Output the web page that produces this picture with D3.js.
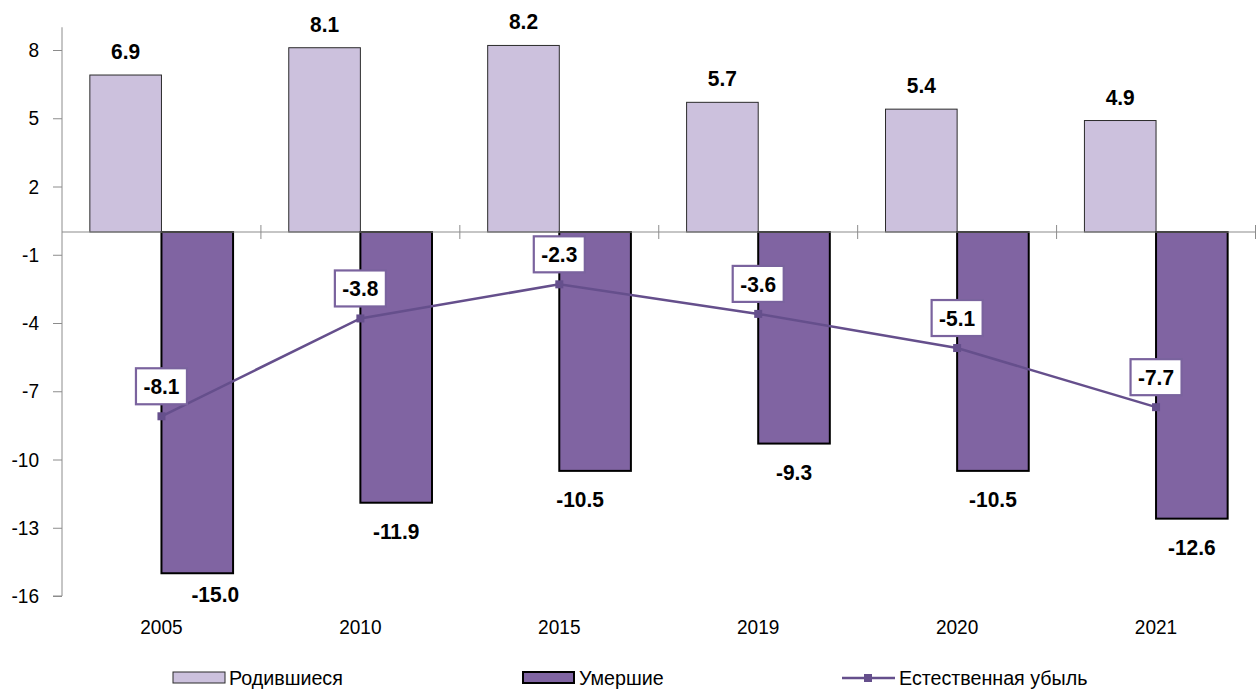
<!DOCTYPE html>
<html><head><meta charset="utf-8">
<script src="https://cdn.jsdelivr.net/npm/d3@7"></script>
<style>
html,body{margin:0;padding:0;background:#fff;}
text{font-family:"Liberation Sans",Arial,sans-serif;}
</style></head>
<body><svg id="chart" width="1258" height="691"></svg>
<script>
const categories = ["2005","2010","2015","2019","2020","2021"];
const births = [6.9, 8.1, 8.2, 5.7, 5.4, 4.9];
const deaths = [-15.0, -11.9, -10.5, -9.3, -10.5, -12.6];
const natural = [-8.1, -3.8, -2.3, -3.6, -5.1, -7.7];
const yTicks = [8, 5, 2, -1, -4, -7, -10, -13, -16];
const seriesNames = ["Родившиеся", "Умершие", "Естественная убыль"];

const svg = d3.select("#chart");
const x = d3.scaleBand().domain(categories).range([62, 1255.5]).padding(0);
const y = d3.scaleLinear().domain([-16, 9]).range([596, 27.25]);
const bw = x.bandwidth() * 0.36;
const cx = c => x(c) + x.bandwidth() / 2;

const cBirth = "#ccc1dd", cDeath = "#8064a2", cLine = "#654f8c", cAxis = "#8c8c8c";
const fTick = 20.5, fLab = 22.5, fLeg = 20.5;

// y axis
const yAxis = svg.append("g").attr("transform", "translate(62,0)")
  .call(d3.axisLeft(y).tickValues(yTicks).tickSize(9).tickPadding(14).tickFormat(d => String(d)));
yAxis.select(".domain").attr("stroke", cAxis).attr("d", `M0,${y(9)}V${y(-16)}H-9`);
yAxis.selectAll(".tick line").attr("stroke", cAxis);
yAxis.selectAll(".tick text").attr("font-size", fTick).attr("fill", "#000").attr("class", "cond");

// bars
svg.append("g").selectAll("rect").data(categories).join("rect")
  .attr("x", (c) => cx(c) - bw).attr("width", bw)
  .attr("y", (c, i) => y(births[i])).attr("height", (c, i) => y(0) - y(births[i]))
  .attr("fill", cBirth).attr("stroke", "#2b2b2b").attr("stroke-width", 1);
svg.append("g").selectAll("rect").data(categories).join("rect")
  .attr("x", (c) => cx(c)).attr("width", bw)
  .attr("y", y(0)).attr("height", (c, i) => y(deaths[i]) - y(0))
  .attr("fill", cDeath).attr("stroke", "#000").attr("stroke-width", 2);

// x axis at zero
const xg = svg.append("g");
xg.append("line").attr("x1", 62).attr("x2", 1255.5).attr("y1", y(0)).attr("y2", y(0))
  .attr("stroke", cAxis).attr("stroke-width", 1.2);
xg.selectAll("line.tk").data(categories).join("line").attr("class", "tk")
  .attr("x1", c => x(c) + x.bandwidth())
  .attr("x2", c => x(c) + x.bandwidth())
  .attr("y1", y(0) - 7).attr("y2", y(0) + 7).attr("stroke", cAxis);
xg.selectAll("text").data(categories).join("text").attr("class", "cond")
  .attr("x", cx).attr("y", 634).attr("text-anchor", "middle")
  .attr("font-size", fTick).text(c => c);

// birth labels
svg.append("g").selectAll("text").data(categories).join("text").attr("class", "cond")
  .attr("x", c => cx(c) - bw / 2).attr("y", (c, i) => y(births[i]) - 16)
  .attr("text-anchor", "middle").attr("font-size", fLab).attr("font-weight", "bold")
  .text((c, i) => births[i].toFixed(1));

// death labels (nudges for overlapping placements)
const nudgeX = {"2005": 18, "2015": -15};
const nudgeY = {"2005": 29};
svg.append("g").selectAll("text").data(categories).join("text").attr("class", "cond")
  .attr("x", c => cx(c) + bw / 2 + (nudgeX[c] || 0))
  .attr("y", (c, i) => y(deaths[i]) + (nudgeY[c] || 36))
  .attr("text-anchor", "middle").attr("font-size", fLab).attr("font-weight", "bold")
  .text((c, i) => deaths[i].toFixed(1));

// line
const line = d3.line().x((d, i) => cx(categories[i])).y(d => y(d));
svg.append("path").datum(natural).attr("d", line)
  .attr("fill", "none").attr("stroke", cLine).attr("stroke-width", 2.5);
svg.append("g").selectAll("rect").data(natural).join("rect")
  .attr("x", (d, i) => cx(categories[i]) - 4).attr("y", d => y(d) - 4)
  .attr("width", 8).attr("height", 8).attr("fill", cLine);

// line labels in boxes
const lg = svg.append("g").selectAll("g").data(natural).join("g")
  .attr("transform", (d, i) => `translate(${cx(categories[i])},${y(d) - 30})`);
lg.append("rect").attr("x", -25.5).attr("y", -18).attr("width", 51).attr("height", 36)
  .attr("fill", "#fff").attr("stroke", "#7a639e").attr("stroke-width", 2.2);
lg.append("text").attr("class", "cond").attr("x", 0).attr("y", 8).attr("text-anchor", "middle")
  .attr("font-size", fLab).attr("font-weight", "bold").text(d => d.toFixed(1));

// legend
const leg = svg.append("g");
leg.append("rect").attr("x", 173).attr("y", 672).attr("width", 52).attr("height", 11)
  .attr("fill", cBirth).attr("stroke", "#2b2b2b").attr("stroke-width", 1);
leg.append("text").attr("class", "leg").attr("x", 229).attr("y", 685).attr("font-size", fLeg).text(seriesNames[0]);
leg.append("rect").attr("x", 523).attr("y", 672).attr("width", 51).attr("height", 11)
  .attr("fill", cDeath).attr("stroke", "#000").attr("stroke-width", 2);
leg.append("text").attr("class", "leg").attr("x", 579).attr("y", 685).attr("font-size", fLeg).text(seriesNames[1]);
leg.append("line").attr("x1", 842).attr("x2", 895).attr("y1", 678).attr("y2", 678)
  .attr("stroke", cLine).attr("stroke-width", 2.5);
leg.append("rect").attr("x", 864).attr("y", 674).attr("width", 8).attr("height", 8).attr("fill", cLine);
leg.append("text").attr("class", "leg").attr("x", 899).attr("y", 685).attr("font-size", fLeg).text(seriesNames[2]);

// slightly condensed glyphs, like the reference
function condense(sel, s) {
  sel.attr("transform", function() {
    const tx = +this.getAttribute("x") || 0;
    return `translate(${tx},0) scale(${s},1) translate(${-tx},0)`;
  });
}
condense(svg.selectAll("text.cond"), 0.93);
condense(svg.selectAll("text.leg"), 0.96);
</script></body></html>
